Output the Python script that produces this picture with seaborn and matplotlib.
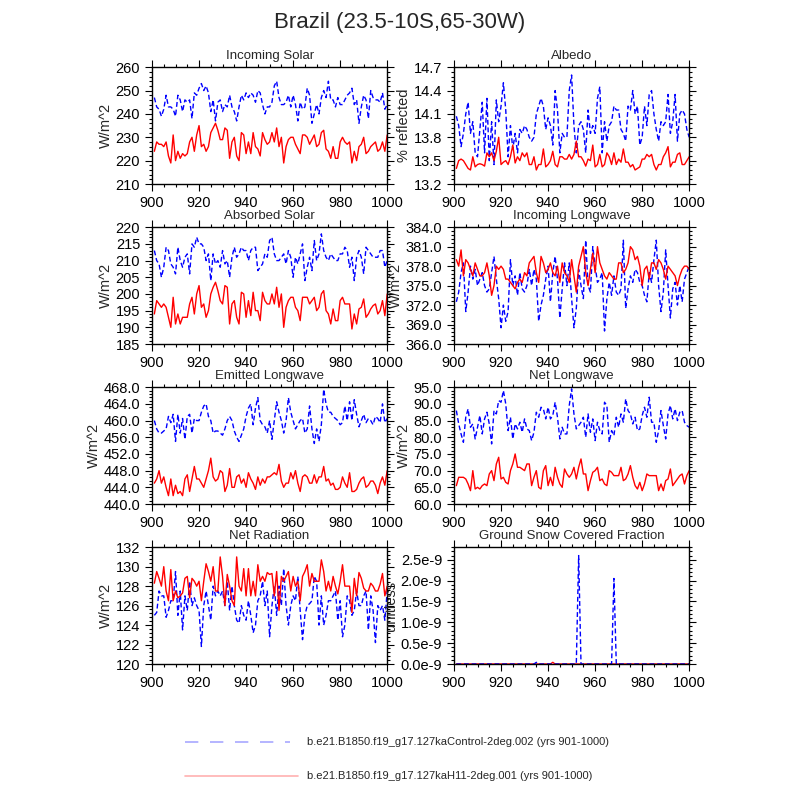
import matplotlib
matplotlib.use("Agg")
import matplotlib.pyplot as plt
import seaborn as sns
import pandas as pd
import numpy as np
from matplotlib.ticker import MultipleLocator, AutoMinorLocator, FormatStrFormatter, FuncFormatter

years = list(range(901, 1001))

ctrl_name = "b.e21.B1850.f19_g17.127kaControl-2deg.002 (yrs 901-1000)"
h11_name = "b.e21.B1850.f19_g17.127kaH11-2deg.001 (yrs 901-1000)"

insol_ctrl = [247,243,242,239,242,248,243,243,242,239,248,246,241,246,245,246,238,249,248,251,
              253,250,252,249,241,246,237,245,246,241,244,243,248,243,241,237,243,248,246,249,
              247,249,248,245,250,249,244,240,243,243,245,252,254,247,244,244,245,248,243,248,
              244,237,245,242,243,251,248,236,240,244,240,247,250,247,254,246,246,243,247,244,
              244,246,248,249,251,244,246,236,243,248,246,238,250,247,246,246,245,249,242,244]
insol_h11 = [224,228,227,227,226,228,222,219,231,220,224,221,223,222,223,228,230,224,231,235,
             226,227,224,226,232,234,236,233,229,229,234,233,221,228,230,222,220,232,231,223,
             228,223,232,226,225,222,232,229,227,228,232,228,234,226,230,219,226,229,230,230,
             227,225,223,231,231,230,227,229,231,226,227,232,233,225,224,221,226,221,221,228,
             230,228,227,228,219,224,220,226,227,230,223,224,226,227,228,224,225,228,224,231]

alb_ctrl = [14.07,13.95,13.68,13.85,14.10,14.25,13.85,14.00,13.60,13.55,13.90,14.25,13.60,14.30,13.50,14.00,13.45,14.28,14.00,14.20,
            14.50,14.15,13.55,13.95,13.65,13.85,13.60,13.90,13.85,13.95,13.90,13.80,13.75,13.80,14.10,14.20,14.30,14.20,13.90,14.05,
            13.95,13.70,14.40,14.15,13.60,13.85,13.80,13.80,14.40,14.60,13.95,13.60,13.95,14.00,13.90,13.60,14.15,13.85,13.95,13.85,
            14.30,14.45,13.60,14.00,13.75,13.95,14.00,14.20,14.15,14.15,13.90,13.85,13.75,14.20,14.15,14.40,14.10,14.20,13.70,13.80,
            14.20,13.95,14.35,14.40,14.10,13.90,13.75,14.00,13.95,14.00,14.35,13.85,14.00,14.35,13.75,14.10,14.15,14.10,13.90,13.80]
alb_h11 = [13.40,13.50,13.52,13.50,13.45,13.40,13.38,13.55,13.42,13.45,13.46,13.45,13.43,13.60,13.55,13.60,13.50,13.62,13.80,13.45,
           13.48,13.50,13.45,13.55,13.70,13.47,13.55,13.50,13.60,13.55,13.60,13.45,13.45,13.55,13.38,13.45,13.45,13.65,13.42,13.45,
           13.50,13.62,13.45,13.42,13.55,13.55,13.52,13.52,13.58,13.52,13.58,13.75,13.55,13.55,13.50,13.43,13.52,13.50,13.70,13.42,
           13.45,13.58,13.42,13.45,13.60,13.55,13.45,13.60,13.45,13.52,13.48,13.65,13.48,13.48,13.42,13.45,13.38,13.40,13.42,13.52,
           13.52,13.58,13.55,13.58,13.45,13.38,13.45,13.45,13.55,13.60,13.68,13.42,13.48,13.48,13.58,13.60,13.45,13.45,13.50,13.55]

abs_ctrl = [213,210,209,205,208,214,213,209,208,206,214,210,208,211,212,206,215,214,217,215,
            215,214,210,212,204,212,209,210,208,213,209,210,205,211,214,211,212,214,213,213,
            210,213,214,214,207,208,209,212,211,216,217,212,210,210,211,212,209,213,211,205,
            211,209,212,215,204,208,211,207,216,210,212,218,213,211,210,212,211,210,210,212,
            212,214,213,208,211,204,211,213,211,206,214,213,212,211,211,211,213,213,208,210]
abs_h11 = [194,198,197,196,197,196,193,190,199,191,194,191,193,193,193,197,199,194,200,202.5,
           196,197,193,195,200,202,203.5,201,198,197,202.5,202,191,197,198,193,191,200.5,200,193,
           198,193.5,200.5,195,195,192,200.5,198,197,197,200,197,202,196,200,190,196,198,199,199,
           196,195,192,199,199,199,197,198,199,195,196,200,201,195,194,191,195.5,192,192,198,
           199,197,197,197,189.5,194,191,195.5,196,198.5,193,194,195.5,196.5,197,194,195,198,193.5,200]

ilw_ctrl = [372.5,374,377,378.5,371,374,378,376,377.5,375,376,377,375,374,374.5,377,379.5,376,373,368.5,
            372,369.5,371,379,375,376.5,373.5,377,374.5,374,375,377.5,375,377.5,376,369.5,372,373.5,376,378,
            372.5,377,379.5,376,370,374.5,378.5,375,378.5,373,368.5,371.5,377.5,375,373,382,375,374,381,378,
            375.5,376,377,368,373,375.5,373.5,376.5,374,373.5,374.5,382,371.5,374.5,376.5,375.5,377.5,377,375.5,375,
            373.5,372.5,377,375.5,379,382,375,371,374,380.5,375,370,374.5,375.5,372,375,372.5,376,377,378]
ilw_h11 = [379,378,380.5,376.5,379,378.5,377.5,376.5,378.5,377.5,376.5,376.5,377,378.5,376.5,373.5,375,378,377.5,378,
           377.5,376,376,375.5,375,374.5,375.5,376,375.5,377,376.5,378.5,379,379.5,377,375.5,379.5,378.5,377,377.5,
           378.5,377,376.5,378,375.5,378.5,377,376.5,375.5,379,376.5,374,378,379.5,381,377,375,377.5,380,377,
           381,378.5,377.5,376.5,376,377,376.5,376,376,378.5,378.5,377,377.5,378.5,381,380.5,379,379.5,378,375,
           377.5,378,376,378.5,378.5,377.5,379,378.5,377.5,376,378,377.5,377,376.5,375,376.5,377.5,378,378,377.5]

elw_ctrl = [460,458,457,457,457.5,458,461,459.5,461.5,455,461.5,457,460.5,455.5,461,461.5,457,460.5,460,460,
            462,463.5,464,461,460,457,457.5,457.5,457,456.5,458,460,461,460,457.5,456,455,456.5,458,461,
            463,464,459,463,465.5,460,459,458.5,457,460,455.5,460,464.5,462,460,457,460,465.5,462,460,
            458,459,460,460.5,457,458,463.5,458,454.5,458,455,459,467.5,464,462,462,461,460.5,460,459,
            459.5,463.5,460,464.5,460,465,461.5,458.5,460,461.5,459.5,460.5,460,459,461,460.5,459.5,464,459.5,460.5]
elw_h11 = [445,446,448,445,446.5,444,442,446,442,444.5,442.5,443,442,446,447,443,446,449,446,446,
           445,444,446,448,451,446.5,445.5,446,448,447.5,443,444.5,448.5,444,444,446.5,447,445,446,444,
           447.5,446,445,443.5,446.5,444.5,446,445,446.5,446.5,447,447.5,447,449.5,445.5,444,445,445,447.5,446,
           448,445,443,446.5,447,446.5,445,445,447,445,446.5,446.5,449,445.5,446,444.5,445,443.5,443.5,444,
           446.5,445,444,447.5,443,443,443.5,445,446,446.5,444,444.5,445.5,445.5,444.5,442.5,445,446.5,444.5,448]

nlw_ctrl = [88,84,81,78.5,86,88.5,83,84,79.5,83,86.5,81,85.5,87.5,84,78,88,87,91,90.5,
            94,90,82,86,79.5,84,82.5,84.5,81.5,85.5,82.5,82,79,81.5,87.5,86,89,88.5,85.5,89,
            85.5,86.5,90.5,86,79.5,83,81,81,89.5,94.5,87,82.5,83.5,84.5,86,80,87,81.5,85.5,79,
            84.5,82,81,90.5,89.5,78.5,82,80.5,86,83,87,84.5,91.5,88,87,84,86,82,82.5,86.5,
            89,86,92,84.5,84.5,78.5,82,88,83.5,79.5,87,89.5,85.5,88.5,85,87.5,88,84.5,83.5,83]
nlw_h11 = [65.5,68,68,68,67.5,66,64,70,64.5,65,64.5,65.5,66,65.5,69,70,67,72,74,67.5,
           68,66.5,66,70,72,75,71,71,70.5,70,72,72,65.5,68,70,65,64.5,70,71.5,65.5,
           68,65.5,71,68,66,65,70.5,69,68,69,71,67.5,71,73.5,69,69,64,67,69.5,70,
           71,67,67.5,66,65.5,70,69.5,68.5,68.5,68.5,71,67,67.5,69,71.5,68,65.5,64.5,66.5,64,
           66,69,68.5,68.5,68.5,68.5,64,66,64,67,67.5,70.5,65.5,66.5,67.5,68.5,69,66,68.5,70]

nrad_ctrl = [125,125.3,127.5,127,127,124.8,125.5,126.5,126.5,129.5,125,127.5,123.5,127,125.5,128.5,126,126.8,126,125.5,
             121.8,126,127.5,126,124.5,128,127,127.5,127,127.5,126,128.5,125.5,128,126,124.5,124.2,126,125,124.5,
             126.5,125,123.2,124,126.5,127,128.5,126,127.5,122.8,126,128,125,128,126,129.8,126,124,126,127,
             126.5,129,125.5,122.5,125,126,126.2,126.5,129,128.5,124,127,124,125,126.5,126.5,127,127.5,124.5,126.5,
             122.8,124,127,126.5,125,125.5,127.5,126,126,127,127.5,123.5,127,125.5,122.2,126,125.5,126,124.5,127.5]
nrad_h11 = [128.3,129.5,128.8,128,130,127.5,126.5,129.7,126.5,127.5,126.8,127,127.3,128.8,129,126.8,128.8,128.5,128,128.5,
            126.5,128.5,130.3,129.5,128.5,130,127.5,127.5,131,129,126,129.2,128,126.5,126,131,128,127.5,129.8,127,
            129.8,127,128.5,127,130.2,128.5,129,128.5,129.4,129.2,129.3,127,129.5,125.5,129,128.5,129,129.5,127.5,129,
            128,128.5,126.5,129,129.5,130.2,128,129.3,128.5,128.5,128.5,130.7,129.5,127.5,128.5,127.5,129,128,127.2,128.5,
            130.2,128,128,128,125.3,128.8,127,129.4,128.8,127.8,127.5,127.5,128.3,128,127.5,127.5,128.2,129.3,127,128]

snow_ctrl = [0.0] * 100
snow_ctrl[935 - 901] = 0.04e-9
snow_ctrl[953 - 901] = 2.6e-9
snow_ctrl[968 - 901] = 2.05e-9
snow_h11 = [0.0] * 100
snow_h11[942 - 901] = 0.04e-9

panels = [
    ("Incoming Solar", "W/m^2", insol_ctrl, insol_h11, (210, 260), 10, "%d"),
    ("Albedo", "% reflected", alb_ctrl, alb_h11, (13.2, 14.7), 0.3, "%.1f"),
    ("Absorbed Solar", "W/m^2", abs_ctrl, abs_h11, (185, 220), 5, "%d"),
    ("Incoming Longwave", "W/m^2", ilw_ctrl, ilw_h11, (366, 384), 3, "%.1f"),
    ("Emitted Longwave", "W/m^2", elw_ctrl, elw_h11, (440, 468), 4, "%.1f"),
    ("Net Longwave", "W/m^2", nlw_ctrl, nlw_h11, (60, 95), 5, "%.1f"),
    ("Net Radiation", "W/m^2", nrad_ctrl, nrad_h11, (120, 132), 2, "%d"),
    ("Ground Snow Covered Fraction", "unitless", snow_ctrl, snow_h11, (0, 2.8e-9), 0.5e-9, "snow"),
]

sns.set_theme(style="ticks")
plt.rcParams['font.family'] = ['Liberation Sans', 'DejaVu Sans']
plt.rcParams['axes.linewidth'] = 1.0

fig = plt.figure(figsize=(8, 8), dpi=100)
fig.text(0.5, 0.972, "Brazil (23.5-10S,65-30W)", ha="center", va="center", fontsize=16)

lefts = [0.19, 0.5675]
bottoms = [0.77, 0.57, 0.37, 0.17]
w, h = 0.294, 0.146

for i, (title, ylabel, c, r, ylim, step, fmt) in enumerate(panels):
    row, col = divmod(i, 2)
    ax = fig.add_axes([lefts[col], bottoms[row], w, h])
    df = pd.DataFrame({"year": years * 2, "value": c + r,
                       "case": [ctrl_name] * 100 + [h11_name] * 100})
    sns.lineplot(data=df, x="year", y="value", hue="case", style="case",
                 palette={ctrl_name: "blue", h11_name: "red"},
                 dashes={ctrl_name: (3.5, 2), h11_name: ""},
                 hue_order=[h11_name, ctrl_name] if i == 7 else [ctrl_name, h11_name],
                 linewidth=1.0, legend=False, ax=ax)
    ax.set_xlim(900, 1000)
    ax.set_ylim(*ylim)
    ax.xaxis.set_major_locator(MultipleLocator(20))
    ax.xaxis.set_minor_locator(MultipleLocator(5))
    ax.yaxis.set_major_locator(MultipleLocator(step))
    ax.yaxis.set_minor_locator(AutoMinorLocator(5))
    if fmt == "snow":
        ax.yaxis.set_major_formatter(FuncFormatter(lambda v, p: "%.1fe-9" % (v * 1e9)))
    else:
        ax.yaxis.set_major_formatter(FormatStrFormatter(fmt))
    ax.tick_params(which="both", direction="out", top=True, right=True,
                   labelsize=10.5, width=0.8, colors="black")
    ax.tick_params(which="major", length=5)
    ax.tick_params(which="minor", length=2.5)
    ax.set_xlabel("")
    ax.set_ylabel(ylabel, fontsize=10.5, labelpad=2)
    ax.set_title(title, fontsize=9.5, pad=6)
    for s in ax.spines.values():
        s.set_color("black")
        s.set_visible(True)

# legend
fig.lines.append(plt.Line2D([0.231, 0.3625], [0.0725, 0.0725], transform=fig.transFigure,
                            color="#a8a8ff", linestyle=(0, (8, 7)), linewidth=1.2))
fig.lines.append(plt.Line2D([0.231, 0.3725], [0.03, 0.03], transform=fig.transFigure,
                            color="#ffb0b0", linewidth=1.2))
fig.text(0.384, 0.0725, ctrl_name, ha="left", va="center", fontsize=8)
fig.text(0.384, 0.03, h11_name, ha="left", va="center", fontsize=8)

fig.savefig("out.png", dpi=100)
